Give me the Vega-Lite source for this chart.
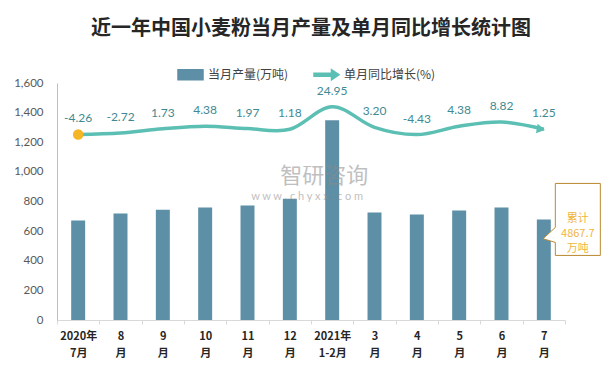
{
  "$schema": "https://vega.github.io/schema/vega-lite/v6.json",
  "width": 508,
  "height": 237,
  "autosize": {"type": "none"},
  "padding": {"left": 57, "top": 83, "right": 49, "bottom": 49},
  "background": "white",
  "title": {
    "text": "近一年中国小麦粉当月产量及单月同比增长统计图",
    "font": "Noto Sans CJK SC",
    "fontSize": 20,
    "fontWeight": "bold",
    "color": "#262626",
    "anchor": "middle",
    "baseline": "bottom",
    "offset": 2
  },
  "config": {
    "view": {"stroke": null},
    "font": "Lato"
  },
  "datasets": {
    "main": [
      {"m": "2020年|7月", "v": 672, "g": -4.26, "gl": "-4.26"},
      {"m": "8|月", "v": 719, "g": -2.72, "gl": "-2.72"},
      {"m": "9|月", "v": 745, "g": 1.73, "gl": "1.73"},
      {"m": "10|月", "v": 760, "g": 4.38, "gl": "4.38"},
      {"m": "11|月", "v": 773, "g": 1.97, "gl": "1.97"},
      {"m": "12|月", "v": 818, "g": 1.18, "gl": "1.18"},
      {"m": "2021年|1-2月", "v": 1348, "g": 24.95, "gl": "24.95"},
      {"m": "3|月", "v": 726, "g": 3.20, "gl": "3.20"},
      {"m": "4|月", "v": 713, "g": -4.43, "gl": "-4.43"},
      {"m": "5|月", "v": 740, "g": 4.38, "gl": "4.38"},
      {"m": "6|月", "v": 760, "g": 8.82, "gl": "8.82"},
      {"m": "7|月", "v": 679, "g": 1.25, "gl": "1.25"}
    ],
    "note": [
      {"m": "7|月", "v": 679, "t": "累计|4867.7|万吨"}
    ],
    "wm": [
      {"m": "2021年|1-2月", "v": 972, "t": "智研咨询", "k": "a"},
      {"m": "2021年|1-2月", "v": 828, "t": "w w w . c h y x x . c o m", "k": "b"}
    ]
  },
  "layer": [
    {
      "data": {"name": "main"},
      "mark": {"type": "bar", "width": {"band": 0.33}},
      "encoding": {
        "x": {
          "field": "m", "type": "nominal", "sort": null,
          "scale": {"domain": ["2020年|7月", "8|月", "9|月", "10|月", "11|月", "12|月", "2021年|1-2月", "3|月", "4|月", "5|月", "6|月", "7|月"], "paddingInner": 0, "paddingOuter": 0},
          "axis": {
            "title": null,
            "labelExpr": "split(datum.label, '|')",
            "labelAngle": 0,
            "labelFont": "Noto Sans CJK SC",
            "labelFontSize": 11,
            "labelFontWeight": "bold",
            "labelColor": "#262626",
            "labelLineHeight": 17,
            "labelPadding": 6,
            "labelBaseline": "top",
            "domainColor": "#d9d9d9",
            "tickColor": "#d9d9d9",
            "tickSize": 4,
            "tickBand": "extent",
            "grid": false
          }
        },
        "y": {
          "field": "v", "type": "quantitative",
          "scale": {"domain": [0, 1600], "nice": false},
          "axis": {
            "title": null,
            "values": [0, 200, 400, 600, 800, 1000, 1200, 1400, 1600],
            "format": ",.0f",
            "grid": false,
            "ticks": false,
            "domainColor": "#bfbfbf",
            "labelColor": "#595959",
            "labelFont": "Lato",
            "labelFontSize": 11.5,
            "labelPadding": 14
          }
        },
        "color": {
          "datum": "当月产量(万吨)", "type": "nominal",
          "scale": {"domain": ["当月产量(万吨)", "单月同比增长(%)"], "range": ["#5d8fa6", "#5cbfb4"]},
          "legend": {
            "title": null,
            "orient": "none",
            "legendX": 120,
            "legendY": -22,
            "direction": "horizontal",
            "symbolSize": 625,
            "labelFont": "Noto Sans CJK SC",
            "labelFontSize": 12,
            "labelColor": "#404040",
            "labelOffset": 4,
            "columnPadding": 22,
            "encode": {
              "symbols": {
                "update": {
                  "shape": {"signal": "datum.value === '当月产量(万吨)' ? 'M-1,-0.4H1V0.4H-1Z' : 'M-1,-0.12H0.4V-0.4L1,0L0.4,0.4V0.12H-1Z'"},
                  "fill": {"scale": "color", "field": "value"},
                  "stroke": {"value": "transparent"},
                  "opacity": {"value": 1},
                  "fillOpacity": {"value": 1}
                }
              }
            }
          }
        }
      }
    },
    {
      "data": {"name": "main"},
      "mark": {"type": "line", "interpolate": "cardinal", "strokeWidth": 3.5},
      "encoding": {
        "x": {"field": "m", "type": "nominal", "sort": null},
        "y": {"field": "g", "type": "quantitative", "scale": {"domain": [-200, 50], "nice": false}, "axis": null},
        "color": {
          "datum": "单月同比增长(%)", "type": "nominal",
          "scale": {"domain": ["当月产量(万吨)", "单月同比增长(%)"], "range": ["#5d8fa6", "#5cbfb4"]}
        }
      }
    },
    {
      "data": {"name": "main"},
      "transform": [{"filter": "datum.m === '7|月'"}],
      "mark": {"type": "point", "shape": "triangle-right", "filled": true, "size": 90, "color": "#5cbfb4", "opacity": 1, "angle": 10, "xOffset": -3},
      "encoding": {
        "x": {"field": "m", "type": "nominal", "sort": null},
        "y": {"field": "g", "type": "quantitative", "scale": {"domain": [-200, 50], "nice": false}, "axis": null}
      }
    },
    {
      "data": {"name": "main"},
      "transform": [{"filter": "datum.m === '2020年|7月'"}],
      "mark": {"type": "point", "shape": "circle", "filled": true, "size": 110, "color": "#f5b625", "opacity": 1},
      "encoding": {
        "x": {"field": "m", "type": "nominal", "sort": null},
        "y": {"field": "g", "type": "quantitative", "scale": {"domain": [-200, 50], "nice": false}, "axis": null}
      }
    },
    {
      "data": {"name": "main"},
      "mark": {"type": "text", "dy": -16, "fontSize": 12, "font": "Lato", "color": "#3e8a93", "baseline": "middle"},
      "encoding": {
        "x": {"field": "m", "type": "nominal", "sort": null},
        "y": {"field": "g", "type": "quantitative", "scale": {"domain": [-200, 50], "nice": false}, "axis": null},
        "text": {"field": "gl", "type": "nominal"}
      }
    },
    {
      "data": {"name": "wm"},
      "transform": [{"filter": "datum.k === 'a'"}],
      "mark": {"type": "text", "dx": -8, "fontSize": 22, "font": "Noto Sans CJK SC", "color": "#8c8c8c", "opacity": 0.55, "baseline": "middle"},
      "encoding": {
        "x": {"field": "m", "type": "nominal", "sort": null},
        "y": {"field": "v", "type": "quantitative", "scale": {"domain": [0, 1600], "nice": false}, "axis": null},
        "text": {"field": "t"}
      }
    },
    {
      "data": {"name": "wm"},
      "transform": [{"filter": "datum.k === 'b'"}],
      "mark": {"type": "text", "dx": -25, "fontSize": 11, "font": "Lato", "color": "#8c8c8c", "opacity": 0.55, "baseline": "middle"},
      "encoding": {
        "x": {"field": "m", "type": "nominal", "sort": null},
        "y": {"field": "v", "type": "quantitative", "scale": {"domain": [0, 1600], "nice": false}, "axis": null},
        "text": {"field": "t"}
      }
    },
    {
      "data": {"name": "note"},
      "mark": {"type": "point", "shape": "M-0.625,-1L0.625,-1L0.625,1L-0.625,1L-0.625,0.639L-0.967,0.536L-0.625,0.222Z", "size": 5184, "filled": true, "fill": "white", "stroke": "#b8892f", "strokeWidth": 1, "opacity": 1, "xOffset": 34},
      "encoding": {
        "x": {"field": "m", "type": "nominal", "sort": null},
        "y": {"field": "v", "type": "quantitative", "scale": {"domain": [0, 1600], "nice": false}, "axis": null}
      }
    },
    {
      "data": {"name": "note"},
      "mark": {"type": "text", "dx": 34, "fontSize": 11, "font": "Noto Sans CJK SC", "color": "#f0b53c", "lineBreak": "|", "lineHeight": 15, "align": "center", "baseline": "middle"},
      "encoding": {
        "x": {"field": "m", "type": "nominal", "sort": null},
        "y": {"field": "v", "type": "quantitative", "scale": {"domain": [0, 1600], "nice": false}, "axis": null},
        "text": {"field": "t"}
      }
    }
  ],
  "resolve": {"scale": {"y": "independent"}}
}
